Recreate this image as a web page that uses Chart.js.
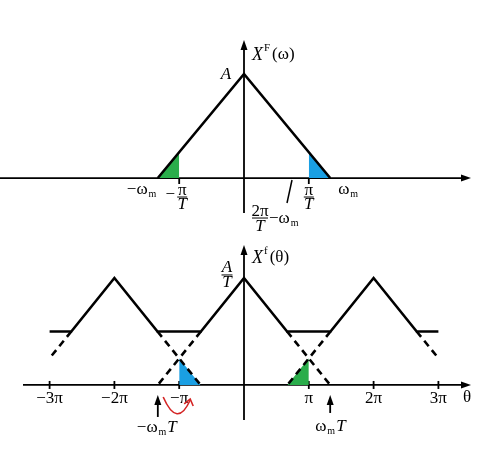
<!DOCTYPE html>
<html>
<head>
<meta charset="utf-8">
<script src="https://cdn.jsdelivr.net/npm/chart.js@4.4.1/dist/chart.umd.min.js"></script>
<style>
  html, body { margin: 0; padding: 0; background: #fff; }
  canvas { display: block; }
</style>
</head>
<body>
<canvas id="sampling" width="491" height="459"></canvas>
<script>
// x in units of pi (top plot: pi/T, bottom plot: pi), y as fraction of the peak
const topLineX = [-1.33, 0, 1.33];
const topLineY = [0, 1, 0];
const topGreenX = [-1.33, -1];
const topGreenY = [0, 0.25];
const topBlueX = [1, 1.33];
const topBlueY = [0.25, 0];

const botSolidX = [-3, -2.665, -2, -1.335, -0.665, 0, 0.665, 1.335, 2, 2.665, 3];
const botSolidY = [0.5, 0.5, 1, 0.5, 0.5, 1, 0.5, 0.5, 1, 0.5, 0.5];
// dashed parts, null = gap
const botDashX = [-2.665, -3, null, -1.335, -0.67, null, -0.665, -1.33, null, 0.665, 1.33, null, 1.335, 0.67, null, 2.665, 3];
const botDashY = [0.5, 0.25, null, 0.5, 0, null, 0.5, 0, null, 0.5, 0, null, 0.5, 0, null, 0.5, 0.25];
const botBlueX = [-1, -0.67];
const botBlueY = [0.25, 0];
const botGreenX = [0.67, 1];
const botGreenY = [0, 0.25];

const thetaTicks = [-3, -2, -1, 1, 2, 3];
const thetaLabels = ['\u22123\u03c0', '\u22122\u03c0', '\u2212\u03c0', '\u03c0', '2\u03c0', '3\u03c0'];
const omegaM = 1.33;

const GREEN = '#2aad4b';
const BLUE = '#1a9fe3';
const SERIF = '"Liberation Serif", "DejaVu Serif", serif';

function pts(xs, ys) {
    return xs.map((x, i) => ({ x: x === null ? 0 : x, y: ys[i] }));
}

function put(ctx, s, x, y, size, italic, align) {
    ctx.font = (italic ? 'italic ' : '') + size + 'px ' + SERIF;
    ctx.textAlign = align || 'center';
    ctx.textBaseline = 'middle';
    ctx.fillText(s, x, y);
    return x + ctx.measureText(s).width;
}

function omegaSub(ctx, x, y, prefix) {
    let end = put(ctx, prefix + '\u03c9', x, y, 17, false, 'left');
    return put(ctx, 'm', end + 1, y + 4, 10, false, 'left');
}

function arrowHead(ctx, x, y, dir) {
    ctx.beginPath();
    if (dir === 'up') {
        ctx.moveTo(x, y); ctx.lineTo(x - 3.5, y + 10); ctx.lineTo(x + 3.5, y + 10);
    } else {
        ctx.moveTo(x, y); ctx.lineTo(x - 10, y - 3.5); ctx.lineTo(x - 10, y + 3.5);
    }
    ctx.closePath();
    ctx.fill();
}

function fracBar(ctx, x, y, w) {
    ctx.save();
    ctx.lineWidth = 1;
    ctx.beginPath(); ctx.moveTo(x - w / 2, y); ctx.lineTo(x + w / 2, y); ctx.stroke();
    ctx.restore();
}

const axesPlugin = {
    id: 'axesPlugin',
    beforeDatasetsDraw(chart) {
        const ctx = chart.ctx;
        const X = v => chart.scales.x.getPixelForValue(v);
        const yt0 = chart.scales.yt.getPixelForValue(0);
        const yb0 = chart.scales.yb.getPixelForValue(0);
        const x0 = X(0);
        ctx.save();
        ctx.strokeStyle = '#000';
        ctx.fillStyle = '#000';
        ctx.lineWidth = 1.8;
        // top axes
        ctx.beginPath(); ctx.moveTo(0, yt0); ctx.lineTo(462, yt0); ctx.stroke();
        arrowHead(ctx, 471, yt0, 'right');
        ctx.beginPath(); ctx.moveTo(x0, 213); ctx.lineTo(x0, 48); ctx.stroke();
        arrowHead(ctx, x0, 40, 'up');
        [-1, 1].forEach(t => {
            ctx.beginPath(); ctx.moveTo(X(t), yt0); ctx.lineTo(X(t), yt0 + 6); ctx.stroke();
        });
        // bottom axes
        ctx.beginPath(); ctx.moveTo(23, yb0); ctx.lineTo(462, yb0); ctx.stroke();
        arrowHead(ctx, 471, yb0, 'right');
        ctx.beginPath(); ctx.moveTo(x0, 420); ctx.lineTo(x0, 253); ctx.stroke();
        arrowHead(ctx, x0, 245, 'up');
        thetaTicks.forEach(t => {
            ctx.beginPath(); ctx.moveTo(X(t), yb0 - 4); ctx.lineTo(X(t), yb0 + 4); ctx.stroke();
        });
        ctx.restore();
    },
    afterDatasetsDraw(chart) {
        const ctx = chart.ctx;
        const X = v => chart.scales.x.getPixelForValue(v);
        const yt0 = chart.scales.yt.getPixelForValue(0);
        const yt1 = chart.scales.yt.getPixelForValue(1);
        const yb0 = chart.scales.yb.getPixelForValue(0);
        const yb1 = chart.scales.yb.getPixelForValue(1);
        const x0 = X(0);
        ctx.save();
        ctx.fillStyle = '#000';
        ctx.strokeStyle = '#000';

        // top labels
        let e = put(ctx, 'X', 252, 55, 18, true, 'left');
        e = put(ctx, 'F', e + 1, 48, 11, false, 'left');
        put(ctx, '(\u03c9)', e + 2, 55, 17, false, 'left');
        put(ctx, 'A', x0 - 18, yt1, 17, true);
        omegaSub(ctx, X(-omegaM) - 31, yt0 + 12, '\u2212');
        put(ctx, '\u2212', X(-1) - 9, yt0 + 17, 17, false);
        put(ctx, '\u03c0', X(-1) + 3, yt0 + 13, 17, false);
        fracBar(ctx, X(-1) + 3, yt0 + 19, 10);
        put(ctx, 'T', X(-1) + 3, yt0 + 27, 17, true);
        put(ctx, '\u03c0', X(1), yt0 + 13, 17, false);
        fracBar(ctx, X(1), yt0 + 19, 10);
        put(ctx, 'T', X(1), yt0 + 27, 17, true);
        omegaSub(ctx, X(omegaM) + 8, yt0 + 12, '');
        put(ctx, '2\u03c0', x0 + 16, yt0 + 34, 17, false);
        fracBar(ctx, x0 + 16, yt0 + 40, 16);
        put(ctx, 'T', x0 + 16, yt0 + 49, 17, true);
        omegaSub(ctx, x0 + 25, yt0 + 41, '\u2212');
        ctx.lineWidth = 1.5;
        ctx.beginPath(); ctx.moveTo(x0 + 48, yt0 + 2); ctx.lineTo(x0 + 43, yt0 + 25); ctx.stroke();

        // bottom labels
        e = put(ctx, 'X', 252, 258, 18, true, 'left');
        e = put(ctx, 'f', e + 1, 251, 11, false, 'left');
        put(ctx, '(\u03b8)', e + 2, 258, 17, false, 'left');
        put(ctx, 'A', x0 - 17, yb1 - 10, 17, true);
        fracBar(ctx, x0 - 17, yb1 - 3, 11);
        put(ctx, 'T', x0 - 17, yb1 + 5, 17, true);
        thetaTicks.forEach((t, i) => put(ctx, thetaLabels[i], X(t), yb0 + 14, 17, false));
        put(ctx, '\u03b8', 467, yb0 + 13, 17, false);

        // omega_m T pointers
        ctx.lineWidth = 1.8;
        [[-omegaM, 32], [omegaM, 28]].forEach(([v, len]) => {
            ctx.beginPath(); ctx.moveTo(X(v), yb0 + len); ctx.lineTo(X(v), yb0 + 18); ctx.stroke();
            arrowHead(ctx, X(v), yb0 + 10, 'up');
        });
        e = omegaSub(ctx, X(-omegaM) - 21, yb0 + 43, '\u2212');
        put(ctx, 'T', e + 1, yb0 + 43, 17, true, 'left');
        e = omegaSub(ctx, X(omegaM) - 15, yb0 + 42, '');
        put(ctx, 'T', e + 1, yb0 + 42, 17, true, 'left');

        // red curved arrow under -pi
        ctx.strokeStyle = '#d42424';
        ctx.lineWidth = 1.6;
        ctx.beginPath();
        ctx.moveTo(X(-1) - 16, yb0 + 12);
        ctx.quadraticCurveTo(X(-1) - 2, yb0 + 44, X(-1) + 11, yb0 + 15);
        ctx.stroke();
        ctx.beginPath();
        ctx.moveTo(X(-1) + 5, yb0 + 19);
        ctx.lineTo(X(-1) + 11, yb0 + 14);
        ctx.lineTo(X(-1) + 14, yb0 + 21);
        ctx.stroke();
        ctx.restore();
    }
};

function lineSet(xs, ys, axis, dashed) {
    return {
        data: pts(xs, ys), yAxisID: axis, borderColor: '#000', borderWidth: 2.6,
        borderDash: dashed ? [7, 5] : [], pointRadius: 0, fill: false, tension: 0, spanGaps: false
    };
}
function fillSet(xs, ys, axis, color) {
    return {
        data: pts(xs, ys), yAxisID: axis, borderColor: 'rgba(0,0,0,0)', borderWidth: 0,
        backgroundColor: color, pointRadius: 0, fill: 'origin', tension: 0
    };
}

new Chart(document.getElementById('sampling').getContext('2d'), {
    type: 'line',
    data: {
        datasets: [
            lineSet(topLineX, topLineY, 'yt', false),
            lineSet(botSolidX, botSolidY, 'yb', false),
            lineSet(botDashX, botDashY, 'yb', true),
            fillSet(topGreenX, topGreenY, 'yt', GREEN),
            fillSet(topBlueX, topBlueY, 'yt', BLUE),
            fillSet(botBlueX, botBlueY, 'yb', BLUE),
            fillSet(botGreenX, botGreenY, 'yb', GREEN)
        ]
    },
    options: {
        responsive: false,
        animation: false,
        devicePixelRatio: 1,
        layout: { padding: 0 },
        plugins: { legend: { display: false }, tooltip: { enabled: false } },
        scales: {
            x: { type: 'linear', display: false, min: -244 / 64.8, max: 247 / 64.8 },
            yt: { type: 'linear', display: false, min: -2.702, max: 1.712 },
            yb: { type: 'linear', display: false, min: -0.692, max: 3.598 }
        }
    },
    plugins: [axesPlugin]
});
</script>
</body>
</html>
